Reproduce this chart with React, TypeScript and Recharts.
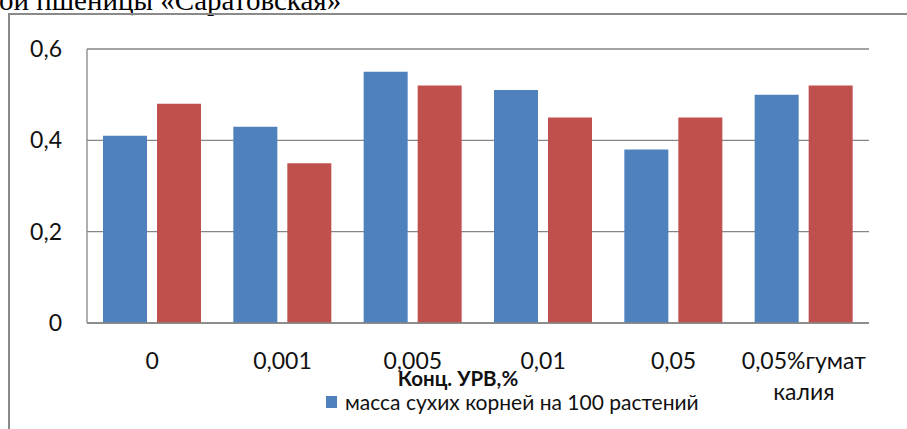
import { BarChart, Bar, XAxis, YAxis, CartesianGrid, Legend } from 'recharts';

const categories = ['0', '0,001', '0,005', '0,01', '0,05', '0,05%гумат калия'];
const blueValues = [0.41, 0.43, 0.55, 0.51, 0.38, 0.5];
const redValues = [0.48, 0.35, 0.52, 0.45, 0.45, 0.52];
const yTicks = [0, 0.2, 0.4, 0.6];
const seriesNames = ['масса сухих корней на 100 растений', 'масса сухих корней на 100 растений, контроль'];
const axisTitle = 'Конц. УРВ,%';
const pageTitle = 'ои пшеницы «Саратовская»';

const data = categories.map((c, i) => ({ name: c, a: blueValues[i], b: redValues[i] }));

const FONT = 'Lato, "Open Sans", sans-serif';
const GRID = '#868686';

const XTick = (props: any) => {
  const { x, y, payload } = props;
  const lines = String(payload.value).split(' ');
  return (
    <text x={x} y={y} textAnchor="middle" fontFamily={FONT} fontSize={23} fill="#111">
      {lines.map((l, i) => (
        <tspan key={i} x={x} dy={i === 0 ? 44 : 31}>
          {l}
        </tspan>
      ))}
    </text>
  );
};

const LegendContent = () => (
  <div style={{ display: 'flex', alignItems: 'center', fontFamily: FONT, fontSize: 21, color: '#111', whiteSpace: 'nowrap' }}>
    <span style={{ display: 'inline-block', width: 11, height: 12, background: '#4F81BD', marginRight: 8 }} />
    <span>{seriesNames[0]}</span>
  </div>
);

export default function App() {
  return (
    <div style={{ position: 'absolute', left: 0, top: 0, width: 907, height: 429, overflow: 'hidden', background: '#fff' }}>
      <div
        style={{
          position: 'absolute',
          left: -1,
          top: -16,
          fontFamily: '"Liberation Serif", "Times New Roman", serif',
          fontSize: 29,
          whiteSpace: 'nowrap',
          color: '#000',
        }}
      >
        {pageTitle}
      </div>
      <div
        style={{
          position: 'absolute',
          left: 8,
          top: 13,
          width: 920,
          height: 440,
          borderLeft: '2px solid #8a8a8a',
          borderTop: '2px solid #8a8a8a',
        }}
      />
      <div style={{ position: 'absolute', left: 0, top: 0 }}>
        <BarChart
          width={907}
          height={429}
          data={data}
          margin={{ top: 49, right: 38, bottom: 76, left: 0 }}
          barSize={44}
          barGap={10}
        >
          <CartesianGrid vertical={false} stroke={GRID} strokeWidth={1.3} />
          <XAxis
            dataKey="name"
            height={30}
            interval={0}
            tickLine={false}
            tickSize={0}
            axisLine={{ stroke: GRID, strokeWidth: 1.3 }}
            tick={<XTick />}
            label={() => (
              <text x={458} y={386} textAnchor="middle" fontFamily={FONT} fontWeight="bold" fontSize={20.5} fill="#111">
                {axisTitle}
              </text>
            )}
          />
          <YAxis
            width={87}
            domain={[0, 0.6]}
            ticks={yTicks}
            interval={0}
            tickLine={false}
            tickSize={0}
            tickMargin={25}
            axisLine={{ stroke: GRID, strokeWidth: 1.3 }}
            tickFormatter={(v: number) => String(v).replace('.', ',')}
            tick={{ fontFamily: FONT, fontSize: 23, fill: '#111' }}
          />
          <Legend
            layout="horizontal"
            verticalAlign="middle"
            align="center"
            content={<LegendContent />}
            wrapperStyle={{ left: 326, top: 389, width: 420 }}
          />
          <Bar dataKey="a" name={seriesNames[0]} fill="#4F81BD" isAnimationActive={false} />
          <Bar dataKey="b" name={seriesNames[1]} fill="#C0504D" isAnimationActive={false} />
        </BarChart>
      </div>
    </div>
  );
}
